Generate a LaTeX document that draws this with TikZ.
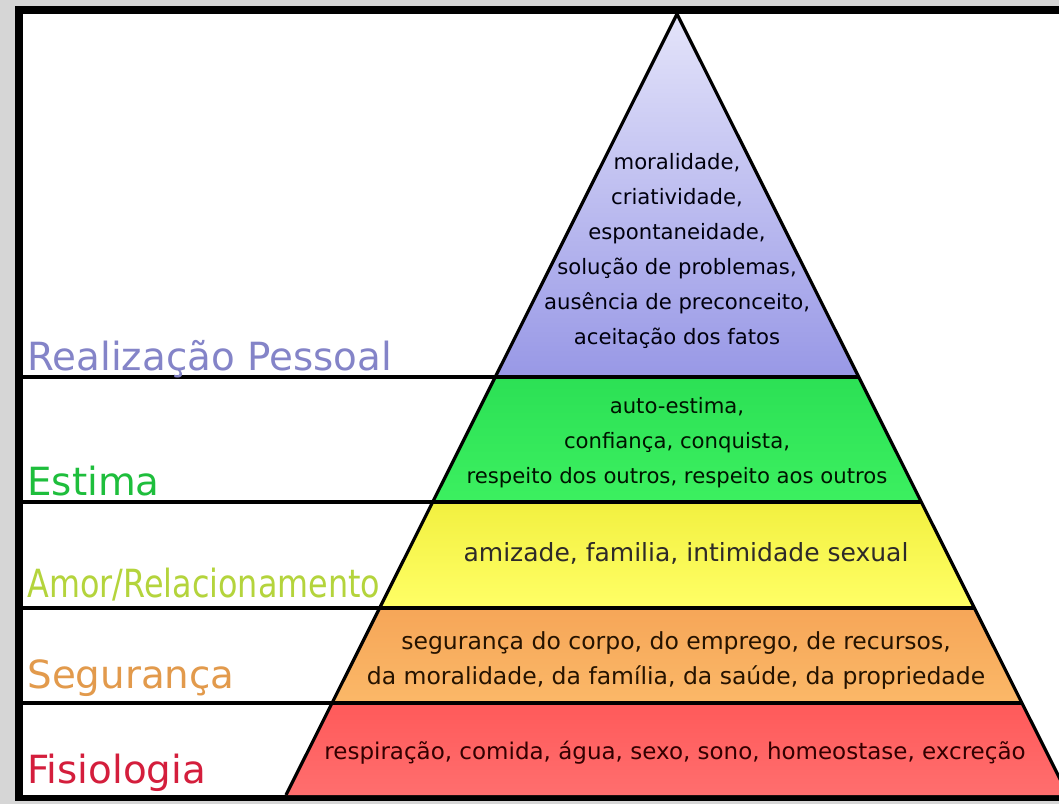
\documentclass[tikz,border=0pt]{standalone}
\usepackage{fontspec}
\setmainfont{DejaVu Sans}
\usetikzlibrary{calc}

\definecolor{framegray}{HTML}{D6D6D6}
\definecolor{realtop}{HTML}{E4E4FA}
\definecolor{realbot}{HTML}{9898E6}
\definecolor{estimatop}{HTML}{2CE055}
\definecolor{estimabot}{HTML}{3CF060}
\definecolor{amortop}{HTML}{F2F040}
\definecolor{amorbot}{HTML}{FFFF66}
\definecolor{segtop}{HTML}{F6A658}
\definecolor{segbot}{HTML}{FBB868}
\definecolor{fistop}{HTML}{FF5A5A}
\definecolor{fisbot}{HTML}{FF6E6E}
\definecolor{realtext}{HTML}{8484C8}
\definecolor{estimatext}{HTML}{1EBE3C}
\definecolor{amortext}{HTML}{B4D43C}
\definecolor{segtext}{HTML}{E29A4C}
\definecolor{fistext}{HTML}{D41E3C}

\begin{document}
\begin{tikzpicture}
  [x=0.5pt, y=-0.5pt,
   level/.style={anchor=base west, inner sep=0pt, font=\fontsize{19.4}{19.4}\selectfont},
   inside/.style={align=center, inner sep=0pt},
   sep/.style={line width=1.8pt}]
  \useasboundingbox (0,0) rectangle (1059,804);

  % frame
  \fill[framegray] (0,0) rectangle (1059,804);
  \fill[black] (15,6) rectangle (1059,801);
  \fill[white] (23,14) rectangle (1059,795);

  % pyramid corners and band edges
  \coordinate (top) at (677,14);
  \coordinate (bl) at (286,795);
  \coordinate (br) at (1068,795);
  \coordinate (edge) at (23,0);
  \coordinate (l1) at ($(top)!0.4648!(bl)$);
  \coordinate (r1) at ($(top)!0.4648!(br)$);
  \coordinate (l2) at ($(top)!0.6248!(bl)$);
  \coordinate (r2) at ($(top)!0.6248!(br)$);
  \coordinate (l3) at ($(top)!0.7606!(bl)$);
  \coordinate (r3) at ($(top)!0.7606!(br)$);
  \coordinate (l4) at ($(top)!0.8822!(bl)$);
  \coordinate (r4) at ($(top)!0.8822!(br)$);

  % bands
  \shade[top color=realtop, bottom color=realbot] (top) -- (r1) -- (l1) -- cycle;
  \shade[top color=estimatop, bottom color=estimabot] (l1) -- (r1) -- (r2) -- (l2) -- cycle;
  \shade[top color=amortop, bottom color=amorbot] (l2) -- (r2) -- (r3) -- (l3) -- cycle;
  \shade[top color=segtop, bottom color=segbot] (l3) -- (r3) -- (r4) -- (l4) -- cycle;
  \shade[top color=fistop, bottom color=fisbot] (l4) -- (r4) -- (br) -- (bl) -- cycle;

  % outline and separators
  \draw[line width=1.6pt] (bl) -- (top) -- (br);
  \draw[sep] (l1 -| edge) -- (r1);
  \draw[sep] (l2 -| edge) -- (r2);
  \draw[sep] (l3 -| edge) -- (r3);
  \draw[sep] (l4 -| edge) -- (r4);

  % level names
  \node[level, text=realtext] (real) at (27,370) {Realização Pessoal};
  \node[level, text=estimatext] (estima) at (27,495) {Estima};
  \node[level, text=amortext] (amor) at (27,597) {\scalebox{0.82}[1]{Amor/Relacionamento}};
  \node[level, text=segtext] (seg) at (27,688) {Segurança};
  \node[level, text=fistext] (fis) at (27,783) {Fisiologia};

  % needs
  \node[inside, text=black!95!blue, font=\fontsize{10.6}{17.5}\selectfont] (realtxt) at (677,251)
    {moralidade,\\criatividade,\\espontaneidade,\\solução de problemas,\\ausência de preconceito,\\aceitação dos fatos};
  \node[inside, text=black!92!green, font=\fontsize{10.6}{17.5}\selectfont] (estimatxt) at (677,443)
    {auto-estima,\\confiança, conquista,\\respeito dos outros, respeito aos outros};
  \node[inside, anchor=base, text=black!95!yellow, font=\fontsize{12.5}{17.5}\selectfont] (amortxt) at (686,561)
    {amizade, familia, intimidade sexual};
  \node[inside, text=black!85!orange, font=\fontsize{11.75}{17.5}\selectfont] (segtxt) at (676,661)
    {segurança do corpo, do emprego, de recursos,\\da moralidade, da família, da saúde, da propriedade};
  \node[inside, anchor=base, text=black!80!red, font=\fontsize{11.5}{17.5}\selectfont] (fistxt) at (675,759)
    {respiração, comida, água, sexo, sono, homeostase, excreção};
\end{tikzpicture}
\end{document}
